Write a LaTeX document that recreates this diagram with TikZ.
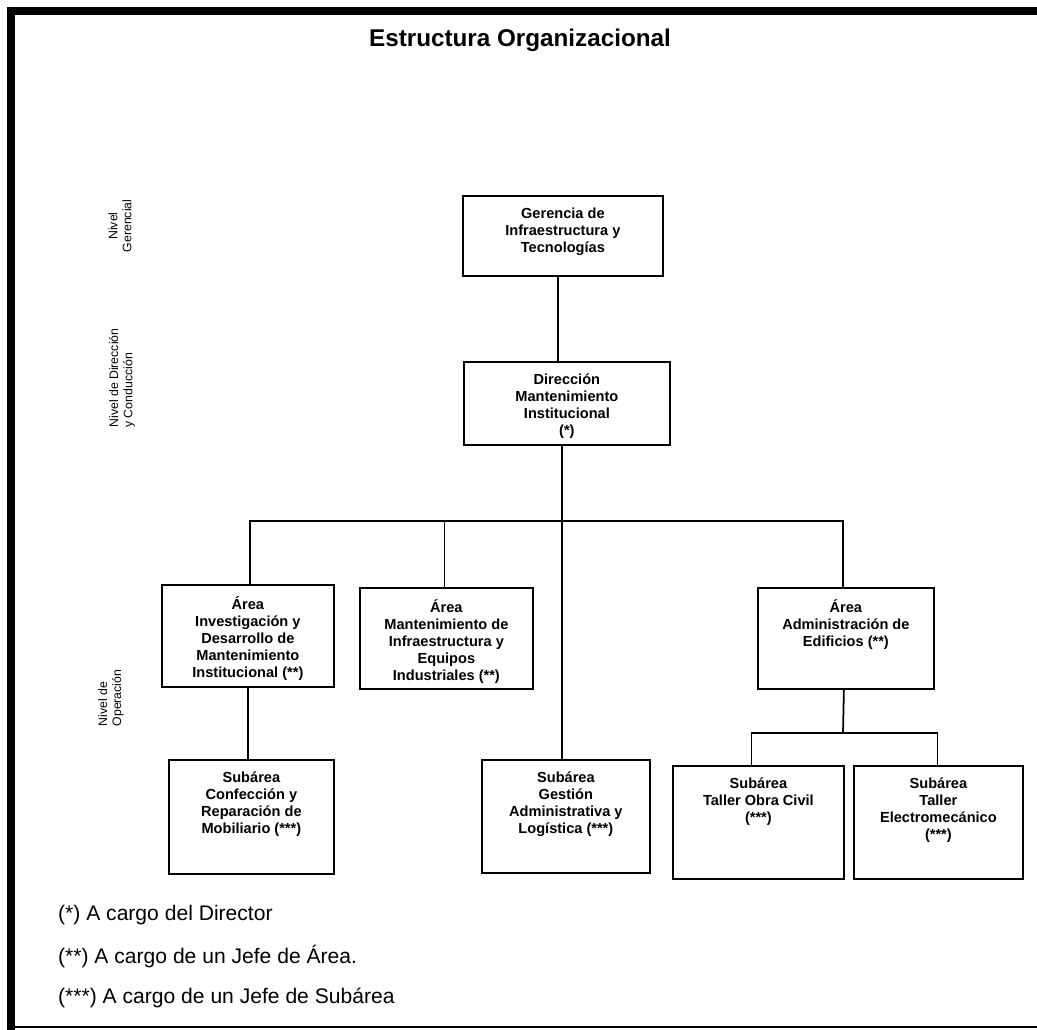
\documentclass[tikz,border=0pt]{standalone}
\usepackage{fontspec}
\setmainfont{Liberation Sans}
\usepackage{tikz}
\usetikzlibrary{positioning}

\tikzstyle{block} = [rectangle, draw, line width=1pt, inner sep=0pt, anchor=north west,
    font=\fontsize{8.3}{9.6}\selectfont\bfseries]
\tikzstyle{line} = [draw, line width=1pt]
\tikzstyle{levellabel} = [rotate=90, align=left, font=\fontsize{7}{8}\selectfont]
\tikzstyle{notetext} = [anchor=west, font=\fontsize{12}{14}\selectfont]

% width, height (px) and text of a box
\newcommand{\boxtext}[3]{\parbox[c][\dimexpr0.02cm*#2\relax][t]{\dimexpr0.02cm*#1\relax}{\centering\vspace*{0.24cm}#3\par}}

\begin{document}
\begin{tikzpicture}[x=0.02cm, y=-0.02cm]
\useasboundingbox (0,0) rectangle (1037,1030);

% Frame
\fill (7,7) rectangle (15,1030);
\fill (7,7) rectangle (1037,15);
\draw[line width=0.8pt] (15,1027) -- (1037,1027);

% Title
\node[font=\fontsize{13.8}{16}\selectfont\bfseries] (title) at (520,40) {Estructura Organizacional};

% Level labels
\node[levellabel, align=center] (lvl1) at (120,226) {Nivel\\Gerencial};
\node[levellabel] (lvl2) at (122,378) {Nivel de Dirección\\y Conducción};
\node[levellabel] (lvl3) at (111,698) {Nivel de\\Operación};

% Top nodes
\node[block] (ger) at (462,195) {\boxtext{200}{80}{Gerencia de\\Infraestructura y\\Tecnologías}};
\node[block] (dir) at (463,361) {\boxtext{206}{83}{Dirección\\Mantenimiento\\Institucional\\(*)}};

% Area nodes
\node[block] (inv) at (161,584) {\boxtext{172}{102}{Área\\Investigación y\\Desarrollo de\\Mantenimiento\\Institucional (**)}};
\node[block] (man) at (359,587) {\boxtext{173}{101}{Área\\Mantenimiento de\\Infraestructura y\\Equipos\\Industriales (**)}};
\node[block] (adm) at (757,587) {\boxtext{176}{101}{Área\\Administración de\\Edificios (**)}};

% Subarea nodes
\node[block] (con) at (168,759) {\boxtext{165}{114}{Subárea\\Confección y\\Reparación de\\Mobiliario (***)}};
\node[block] (ges) at (481,759) {\boxtext{168}{113}{Subárea\\Gestión\\Administrativa y\\Logística (***)}};
\node[block] (obr) at (672,765) {\boxtext{171}{113}{Subárea\\Taller Obra Civil\\(***)}};
\node[block] (ele) at (853,765) {\boxtext{169}{113}{Subárea\\Taller\\Electromecánico\\(***)}};

% Lines
\coordinate (bus) at (561,521);
\coordinate (sub) at (843,733);
\draw[line] ([xshift=-0.1cm]ger.south) -- ([xshift=-0.1cm]ger.south |- dir.north);
\draw[line] ([xshift=-0.1cm]dir.south) -- ([xshift=-0.1cm]dir.south |- ges.north);
\draw[line] ([xshift=0.04cm]inv.north) |- (bus) -| ([xshift=-0.06cm]adm.north);
\draw[line] ([xshift=-0.04cm]man.north) -- ([xshift=-0.04cm]man.north |- bus);
\draw[line] (inv.south) -- (inv.south |- con.north);
\draw[line] ([xshift=-0.04cm]adm.south) -- (sub);
\draw[line] ([xshift=-0.14cm]obr.north) |- (sub) -| ([xshift=-0.02cm]ele.north);

% Notes
\node[notetext] (n1) at (52,915) {(*) A cargo del Director};
\node[notetext] (n2) at (52,957) {(**) A cargo de un Jefe de Área.};
\node[notetext] (n3) at (52,998) {(***) A cargo de un Jefe de Subárea};

\end{tikzpicture}
\end{document}
